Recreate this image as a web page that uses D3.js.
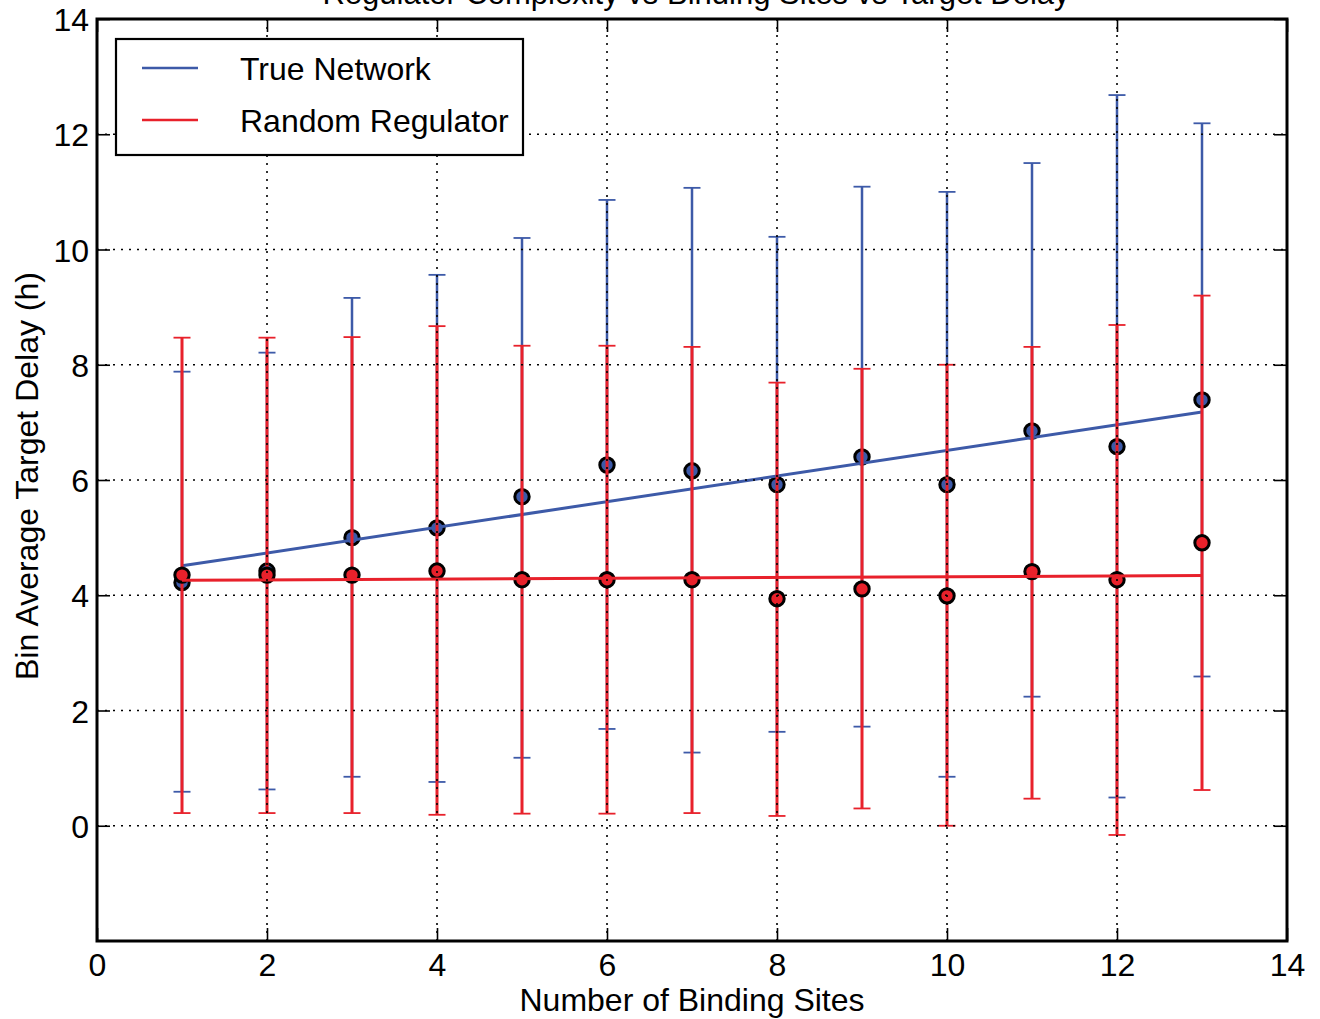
<!DOCTYPE html>
<html>
<head>
<meta charset="utf-8">
<script src="https://cdn.jsdelivr.net/npm/d3@7"></script>
<style>
  body { margin: 0; background: #fff; }
  text { font-family: "Liberation Sans", Arial, Helvetica, sans-serif; fill: #000; }
</style>
</head>
<body>
<svg id="chart" width="1320" height="1019"></svg>
<script>
// Binned target delay versus number of binding sites
const bindingSites = [1, 2, 3, 4, 5, 6, 7, 8, 9, 10, 11, 12, 13];

const trueMean = [4.22, 4.42, 5.00, 5.17, 5.71, 6.26, 6.16, 5.92, 6.40, 5.92, 6.85, 6.58, 7.39];
const trueLow  = [0.59, 0.63, 0.85, 0.76, 1.18, 1.68, 1.27, 1.63, 1.72, 0.85, 2.24, 0.49, 2.59];
const trueHigh = [7.88, 8.21, 9.16, 9.56, 10.20, 10.86, 11.07, 10.22, 11.09, 11.00, 11.50, 12.68, 12.19];

const randMean = [4.35, 4.35, 4.35, 4.42, 4.27, 4.27, 4.27, 3.94, 4.11, 3.99, 4.41, 4.27, 4.91];
const randLow  = [0.22, 0.22, 0.22, 0.19, 0.21, 0.21, 0.22, 0.17, 0.30, 0.00, 0.47, -0.16, 0.62];
const randHigh = [8.47, 8.47, 8.48, 8.67, 8.33, 8.33, 8.31, 7.69, 7.93, 8.00, 8.31, 8.69, 9.20];

const seriesNames = ["True Network", "Random Regulator"];
const seriesColors = ["#3d5aa8", "#e8212b"];

const xTicks = [0, 2, 4, 6, 8, 10, 12, 14];
const yTicks = [0, 2, 4, 6, 8, 10, 12, 14];

const titleText = "Regulator Complexity vs Binding Sites vs Target Delay";
const xLabel = "Number of Binding Sites";
const yLabel = "Bin Average Target Delay (h)";

// Plot geometry
const plotLeft = 97, plotRight = 1287, plotTop = 19, plotBottom = 941;
const svg = d3.select("#chart");

const x = d3.scaleLinear().domain([0, 14]).range([plotLeft, plotRight]);
const y = d3.scaleLinear().domain([-2, 14]).range([plotBottom, plotTop]);

// Least-squares trend line over the bins
function fitLine(xs, ys) {
  const mx = d3.mean(xs), my = d3.mean(ys);
  let sxy = 0, sxx = 0;
  xs.forEach((v, i) => { sxy += (v - mx) * (ys[i] - my); sxx += (v - mx) * (v - mx); });
  const slope = sxy / sxx;
  const x0 = d3.min(xs), x1 = d3.max(xs);
  return [[x0, my + slope * (x0 - mx)], [x1, my + slope * (x1 - mx)]];
}

const series = [
  { name: seriesNames[0], color: seriesColors[0], mean: trueMean, low: trueLow, high: trueHigh, width: 2.5 },
  { name: seriesNames[1], color: seriesColors[1], mean: randMean, low: randLow, high: randHigh, width: 3 }
];

const plot = svg.append("g");
const capHalf = 8.5;

series.forEach(s => {
  const g = plot.append("g");
  const rows = bindingSites.map((b, i) => ({ b, m: s.mean[i], lo: s.low[i], hi: s.high[i] }));

  // error bars
  g.selectAll(".bar").data(rows).join("line").attr("class", "bar")
    .attr("x1", d => x(d.b)).attr("x2", d => x(d.b))
    .attr("y1", d => y(d.lo)).attr("y2", d => y(d.hi))
    .attr("stroke", s.color).attr("stroke-width", s.width);
  g.selectAll(".capHi").data(rows).join("line").attr("class", "capHi")
    .attr("x1", d => x(d.b) - capHalf).attr("x2", d => x(d.b) + capHalf)
    .attr("y1", d => y(d.hi)).attr("y2", d => y(d.hi))
    .attr("stroke", s.color).attr("stroke-width", 1.8);
  g.selectAll(".capLo").data(rows).join("line").attr("class", "capLo")
    .attr("x1", d => x(d.b) - capHalf).attr("x2", d => x(d.b) + capHalf)
    .attr("y1", d => y(d.lo)).attr("y2", d => y(d.lo))
    .attr("stroke", s.color).attr("stroke-width", 1.8);

  // bin means
  g.selectAll("circle").data(rows).join("circle")
    .attr("cx", d => x(d.b)).attr("cy", d => y(d.m))
    .attr("r", 7.2)
    .attr("fill", s.color)
    .attr("stroke", "#000").attr("stroke-width", 3);

  // trend line
  const fit = fitLine(bindingSites, s.mean);
  g.append("path")
    .attr("d", d3.line().x(d => x(d[0])).y(d => y(d[1]))(fit))
    .attr("fill", "none").attr("stroke", s.color).attr("stroke-width", 3);
});

// dotted grid over the data
const grid = svg.append("g").attr("stroke", "#000").attr("stroke-width", 1.6)
  .attr("stroke-dasharray", "2,6");
grid.selectAll(".gx").data(xTicks.filter(t => t > 0 && t < 14)).join("line").attr("class", "gx")
  .attr("x1", d => x(d)).attr("x2", d => x(d)).attr("y1", plotTop).attr("y2", plotBottom);
grid.selectAll(".gy").data(yTicks.filter(t => t < 14)).join("line").attr("class", "gy")
  .attr("x1", plotLeft).attr("x2", plotRight).attr("y1", d => y(d)).attr("y2", d => y(d));

// axes with inward ticks on all four sides
const tickLen = 13;
const axFont = 32;
const gB = svg.append("g").attr("transform", `translate(0,${plotBottom})`)
  .call(d3.axisBottom(x).tickValues(xTicks).tickSizeInner(-tickLen).tickSizeOuter(0).tickPadding(12));
const gT = svg.append("g").attr("transform", `translate(0,${plotTop})`)
  .call(d3.axisTop(x).tickValues(xTicks).tickSizeInner(-tickLen).tickSizeOuter(0).tickFormat(""));
const gL = svg.append("g").attr("transform", `translate(${plotLeft},0)`)
  .call(d3.axisLeft(y).tickValues(yTicks).tickSizeInner(-tickLen).tickSizeOuter(0).tickPadding(8));
const gR = svg.append("g").attr("transform", `translate(${plotRight},0)`)
  .call(d3.axisRight(y).tickValues(yTicks).tickSizeInner(-tickLen).tickSizeOuter(0).tickFormat(""));

[gB, gT, gL, gR].forEach(a => {
  a.select(".domain").remove();
  a.selectAll(".tick line").attr("stroke", "#000").attr("stroke-width", 1.6);
  a.selectAll(".tick text").attr("font-size", axFont).attr("fill", "#000")
    .style("font-family", "'Liberation Sans', Arial, sans-serif");
});
gB.selectAll(".tick text").attr("dy", "0.71em");
gL.selectAll(".tick text").attr("dy", "0.36em");

// frame
svg.append("rect")
  .attr("x", plotLeft).attr("y", plotTop)
  .attr("width", plotRight - plotLeft).attr("height", plotBottom - plotTop)
  .attr("fill", "none").attr("stroke", "#000").attr("stroke-width", 3);

// axis labels
svg.append("text")
  .attr("x", (plotLeft + plotRight) / 2).attr("y", 1011)
  .attr("text-anchor", "middle").attr("font-size", 32)
  .text(xLabel);
svg.append("text")
  .attr("transform", `translate(38,${(y(14) + y(-2)) / 2 - 4}) rotate(-90)`)
  .attr("text-anchor", "middle").attr("font-size", 32)
  .text(yLabel);

// title (runs off the top edge)
svg.append("text")
  .attr("x", (plotLeft + plotRight) / 2 + 4).attr("y", 4)
  .attr("text-anchor", "middle").attr("font-size", 31)
  .text(titleText);

// legend
const legend = svg.append("g");
legend.append("rect")
  .attr("x", 116).attr("y", 39).attr("width", 407).attr("height", 116)
  .attr("fill", "#fff").attr("stroke", "#000").attr("stroke-width", 2.2);
const legRows = [68, 120];
series.forEach((s, i) => {
  legend.append("line")
    .attr("x1", 142).attr("x2", 198)
    .attr("y1", legRows[i]).attr("y2", legRows[i])
    .attr("stroke", s.color).attr("stroke-width", 2.6);
  legend.append("text")
    .attr("x", 240).attr("y", legRows[i] + 12)
    .attr("font-size", 32)
    .text(s.name);
});
</script>
</body>
</html>
